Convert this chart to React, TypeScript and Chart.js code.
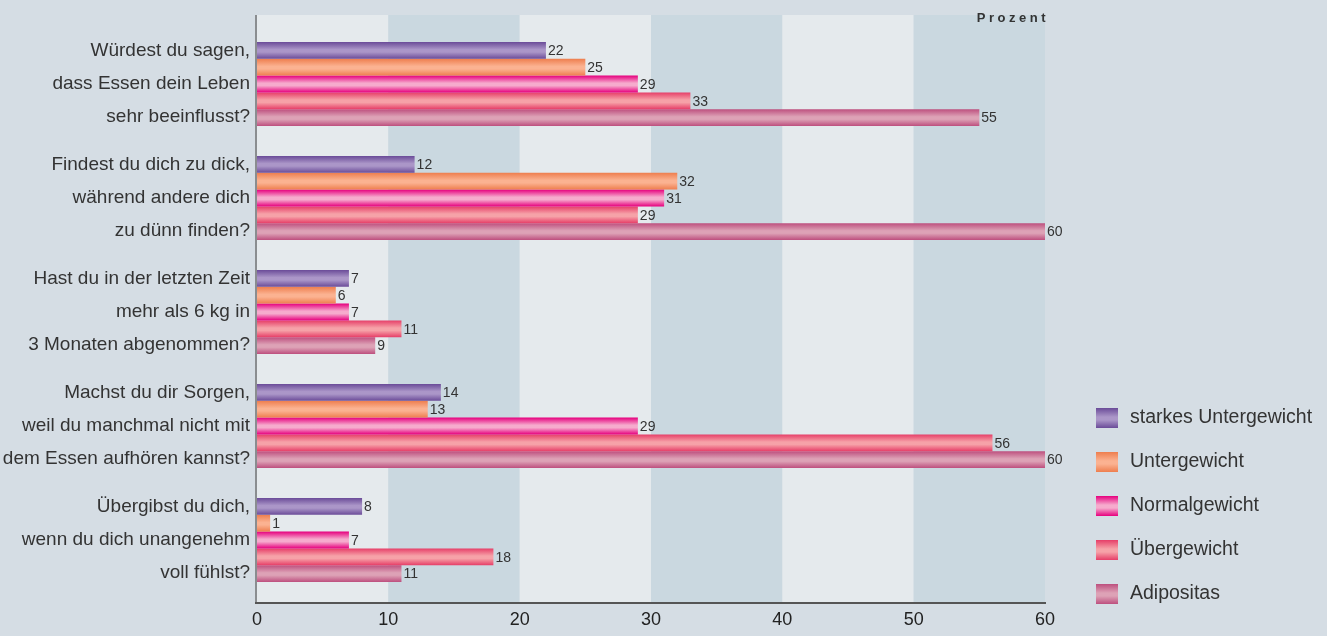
import React, { useEffect, useRef } from "react";
import { Chart, registerables } from "chart.js";
Chart.register(...registerables);

const categories: string[][] = [
  ["Würdest du sagen,", "dass Essen dein Leben", "sehr beeinflusst?"],
  ["Findest du dich zu dick,", "während andere dich", "zu dünn finden?"],
  ["Hast du in der letzten Zeit", "mehr als 6 kg in", "3 Monaten abgenommen?"],
  ["Machst du dir Sorgen,", "weil du manchmal nicht mit", "dem Essen aufhören kannst?"],
  ["Übergibst du dich,", "wenn du dich unangenehm", "voll fühlst?"],
];
const seriesNames = ["starkes Untergewicht", "Untergewicht", "Normalgewicht", "Übergewicht", "Adipositas"];
const starkesUntergewicht = [22, 12, 7, 14, 8];
const untergewicht = [25, 32, 6, 13, 1];
const normalgewicht = [29, 31, 7, 29, 7];
const uebergewicht = [33, 29, 11, 56, 18];
const adipositas = [55, 60, 9, 60, 11];
const xTicks = [0, 10, 20, 30, 40, 50, 60];
const axisTitle = "Prozent";

const edgeColors = ["#6a4b98", "#ee7e4e", "#e6007e", "#e63e68", "#bd4f7e"];
const midColors = ["#ab96c8", "#fbb291", "#f6abcd", "#f6a2a8", "#dda2b6"];

const FONT = "'Liberation Sans', Arial, sans-serif";
const CAT_PCT = 0.737;

function makeGrad(c: CanvasRenderingContext2D, top: number, h: number, si: number) {
  const g = c.createLinearGradient(0, top, 0, top + h);
  g.addColorStop(0, edgeColors[si]);
  g.addColorStop(0.45, midColors[si]);
  g.addColorStop(0.6, midColors[si]);
  g.addColorStop(1, edgeColors[si]);
  return g;
}

export default function App() {
  const ref = useRef<HTMLCanvasElement>(null);
  useEffect(() => {
    document.body.style.margin = "0";
    document.body.style.background = "#d5dde4";
    const canvas = ref.current!;
    const seriesData = [starkesUntergewicht, untergewicht, normalgewicht, uebergewicht, adipositas];

    const bgFn = (si: number) => (ctx: any) => {
      const chart = ctx.chart;
      const area = chart.chartArea;
      const ys = chart.scales && chart.scales.y;
      if (!area || !ys || ctx.dataIndex === undefined) return midColors[si];
      const slot = (area.bottom - area.top) / categories.length;
      const groupH = slot * CAT_PCT;
      const h = groupH / seriesNames.length;
      const center = ys.getPixelForValue(ctx.dataIndex);
      const top = center - groupH / 2 + si * h;
      return makeGrad(chart.ctx, top, h, si);
    };

    const bandsPlugin = {
      id: "bands",
      beforeDatasetsDraw(chart: any) {
        const { ctx, chartArea } = chart;
        const xs = chart.scales.x;
        ctx.save();
        for (let i = 0; i < xTicks.length - 1; i++) {
          const x0 = xs.getPixelForValue(xTicks[i]);
          const x1 = xs.getPixelForValue(xTicks[i + 1]);
          ctx.fillStyle = i % 2 === 0 ? "#e5eaed" : "#cad8e0";
          ctx.fillRect(x0, chartArea.top - 12, x1 - x0, chartArea.bottom - chartArea.top + 18);
        }
        ctx.restore();
      },
      afterDraw(chart: any) {
        const { ctx, chartArea } = chart;
        ctx.save();
        ctx.strokeStyle = "#8a8d90";
        ctx.lineWidth = 2;
        ctx.beginPath();
        ctx.moveTo(chartArea.left - 1, chartArea.top - 12);
        ctx.lineTo(chartArea.left - 1, chartArea.bottom + 7);
        ctx.stroke();
        ctx.strokeStyle = "#555";
        ctx.beginPath();
        ctx.moveTo(chartArea.left - 2, chartArea.bottom + 6);
        ctx.lineTo(chartArea.right + 1, chartArea.bottom + 6);
        ctx.stroke();
        // title
        ctx.fillStyle = "#333";
        ctx.font = `bold 13px ${FONT}`;
        (ctx as any).letterSpacing = "3.5px";
        ctx.textAlign = "right";
        ctx.textBaseline = "middle";
        ctx.fillText(axisTitle, chartArea.right + 4, chartArea.top - 9);
        (ctx as any).letterSpacing = "0px";
        // legend
        ctx.textAlign = "left";
        ctx.font = `19.5px ${FONT}`;
        for (let i = 0; i < seriesNames.length; i++) {
          const by = 408 + 44 * i;
          ctx.fillStyle = makeGrad(ctx, by, 20, i);
          ctx.fillRect(1096, by, 22, 20);
          ctx.fillStyle = "#333";
          ctx.fillText(seriesNames[i], 1130, by + 10);
        }
        ctx.restore();
      },
      afterDatasetsDraw(chart: any) {
        const { ctx } = chart;
        ctx.save();
        ctx.font = `14px ${FONT}`;
        ctx.fillStyle = "#333";
        ctx.textAlign = "left";
        ctx.textBaseline = "middle";
        chart.data.datasets.forEach((ds: any, di: number) => {
          const meta = chart.getDatasetMeta(di);
          meta.data.forEach((bar: any, j: number) => {
            ctx.fillText(String(ds.data[j]), bar.x + 2, bar.y + 1);
          });
        });
        ctx.restore();
      },
    };

    const chart = new Chart(canvas, {
      type: "bar",
      data: {
        labels: categories,
        datasets: seriesNames.map((name, si) => ({
          label: name,
          data: seriesData[si],
          backgroundColor: bgFn(si),
          borderWidth: 0,
          categoryPercentage: CAT_PCT,
          barPercentage: 1.0,
        })),
      },
      options: {
        indexAxis: "y",
        animation: false,
        responsive: false,
        maintainAspectRatio: false,
        layout: { padding: { top: 27, right: 282, bottom: 0, left: 0 } },
        plugins: { legend: { display: false }, tooltip: { enabled: false } },
        scales: {
          x: {
            type: "linear",
            min: 0,
            max: 60,
            afterBuildTicks(scale: any) {
              scale.ticks = xTicks.map((v) => ({ value: v }));
            },
            afterFit(scale: any) {
              scale.height = 39;
              scale.paddingLeft = 0;
              scale.paddingRight = 0;
            },
            grid: { display: false, drawTicks: false },
            border: { display: false },
            ticks: { color: "#222", padding: 12, font: { family: FONT, size: 18 }, maxRotation: 0, autoSkip: false },
          },
          y: {
            type: "category",
            afterFit(scale: any) {
              scale.width = 257;
              scale.paddingTop = 0;
              scale.paddingBottom = 0;
            },
            grid: { display: false, drawTicks: false },
            border: { display: false },
            ticks: { color: "#333", padding: 7, font: { family: FONT, size: 19, lineHeight: 33 / 19 } },
          },
        },
      },
      plugins: [bandsPlugin],
    });
    return () => chart.destroy();
  }, []);
  return <canvas ref={ref} width={1327} height={636} style={{ display: "block" }} />;
}
